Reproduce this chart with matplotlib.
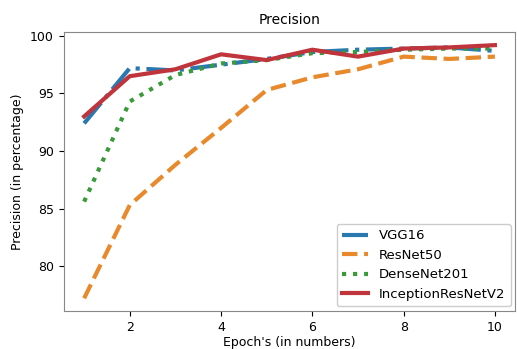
import matplotlib; matplotlib.use("Agg")
import matplotlib.pyplot as plt

epochs = [1, 2, 3, 4, 5, 6, 7, 8, 9, 10]
vgg16 = [92.4, 97.2, 97.0, 97.5, 98.0, 98.6, 98.8, 98.9, 99.0, 98.7]
resnet50 = [77.2, 85.3, 88.8, 92.0, 95.3, 96.4, 97.1, 98.2, 98.0, 98.2]
densenet201 = [85.6, 94.3, 96.6, 97.6, 97.9, 98.5, 98.6, 98.8, 98.9, 98.9]
inception = [93.0, 96.5, 97.1, 98.4, 97.9, 98.8, 98.2, 98.9, 99.0, 99.2]


def main():
    fig = plt.figure(figsize=(5.17, 3.49), dpi=100)
    ax = fig.add_axes([0.123, 0.109, 0.874, 0.798])

    ax.plot(epochs, vgg16, color="#2a78b0", lw=3, ls="-.", label="VGG16")
    ax.plot(epochs, resnet50, color="#e8892c", lw=3, ls="--", label="ResNet50")
    ax.plot(epochs, densenet201, color="#3a9a3a", lw=3, ls=":", label="DenseNet201")
    ax.plot(epochs, inception, color="#c0343c", lw=3, ls="-", label="InceptionResNetV2")

    ax.set_title("Precision", fontsize=10)
    ax.set_xlabel("Epoch's (in numbers)", fontsize=9, labelpad=2)
    ax.set_ylabel("Precision (in percentage)", fontsize=9)
    ax.set_xticks([2, 4, 6, 8, 10])
    ax.set_yticks([80, 85, 90, 95, 100])
    ax.tick_params(labelsize=9)
    for s in ax.spines.values():
        s.set_color("#888888")
    ax.legend(loc="lower right", fontsize=9.5, framealpha=1.0,
              borderaxespad=0.35)

    fig.savefig("out.png", dpi=100)
    plt.close(fig)


if __name__ == "__main__":
    main()
